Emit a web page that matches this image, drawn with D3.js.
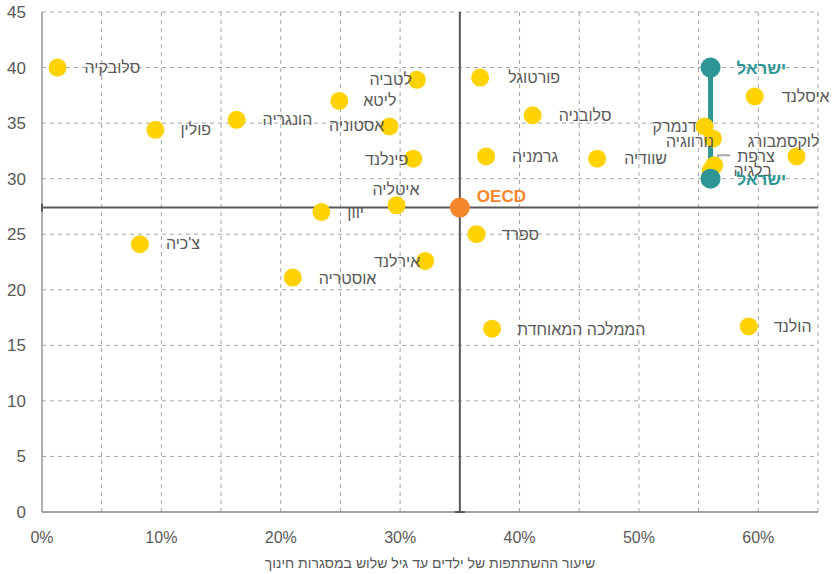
<!DOCTYPE html>
<html>
<head>
<meta charset="utf-8">
<script src="https://cdn.jsdelivr.net/npm/d3@7"></script>
<style>
  body { margin: 0; background: #fff; }
  text { font-family: "Liberation Sans", Arial, sans-serif; }
</style>
</head>
<body>
<div class="chart"></div>
<script>

// countries (Hebrew names), participation rate under 3 (%) and y value
var countries = ["סלובקיה", "פולין", "הונגריה", "ליטא", "לטביה", "אסטוניה", "פינלנד",
                 "פורטוגל", "סלובניה", "גרמניה", "שוודיה", "דנמרק", "נורווגיה", "בלגיה",
                 "צרפת", "איסלנד", "לוקסמבורג", "הולנד", "הממלכה המאוחדת", "ספרד",
                 "אירלנד", "אוסטריה", "איטליה", "יוון", "צ'כיה"];
var xValues = [1.3, 9.5, 16.3, 24.9, 31.4, 29.1, 31.1,
               36.7, 41.1, 37.2, 46.5, 55.5, 56.2, 56.0,
               56.3, 59.7, 63.2, 59.2, 37.7, 36.4,
               32.1, 21.0, 29.7, 23.4, 8.2];
var yValues = [40.0, 34.4, 35.3, 37.0, 38.9, 34.7, 31.8,
               39.1, 35.7, 32.0, 31.8, 34.7, 33.6, 30.7,
               31.2, 37.4, 32.0, 16.7, 16.5, 25.0,
               22.6, 21.1, 27.6, 27.0, 24.1];

var oecd = { name: "OECD", x: 35.0, y: 27.4 };
var israelName = "ישראל";
var israelX = 56.0;
var israelY = [40, 30];

var xTicks = [0, 10, 20, 30, 40, 50, 60];
var yTicks = [0, 5, 10, 15, 20, 25, 30, 35, 40, 45];
var xTitle = "שיעור ההשתתפות של ילדים עד גיל שלוש במסגרות חינוך";

// label placement (layout only): dx, dy from point, anchor
var labelPos = {
  "סלובקיה": [27, 5, "start"], "פולין": [25, 5, "start"], "הונגריה": [26, 5, "start"],
  "ליטא": [24, 5, "start"], "לטביה": [-5, 5, "end"], "אסטוניה": [-5, 5, "end"],
  "פינלנד": [-5, 6, "end"], "פורטוגל": [28, 5, "start"], "סלובניה": [26, 6, "start"],
  "גרמניה": [26, 6, "start"], "שוודיה": [27, 5, "start"], "דנמרק": [-8, 6, "end"],
  "נורווגיה": [1, 8, "end"], "צרפת": [23, -3, "start"], "בלגיה": [23, 5, "start"],
  "איסלנד": [27, 6, "start"], "לוקסמבורג": [23, -9, "end"], "הולנד": [25, 6, "start"],
  "הממלכה המאוחדת": [25, 6, "start"], "ספרד": [25, 6, "start"], "אירלנד": [-5, 6, "end"],
  "אוסטריה": [26, 6, "start"], "איטליה": [23, -10, "end"], "יוון": [26, 6, "start"],
  "צ'כיה": [26, 5, "start"]
};

var w = 832, h = 574;
var margin = { left: 42, right: 14, top: 12, bottom: 62 };

var svg = d3.select(".chart").append("svg")
            .attr("width", w)
            .attr("height", h);

var x = d3.scaleLinear().domain([0, 65]).range([margin.left, w - margin.right]);
var y = d3.scaleLinear().domain([0, 45]).range([h - margin.bottom, margin.top]);

// dashed grid
var gridX = d3.range(5, 66, 5);
var gridY = d3.range(5, 46, 5);
svg.append("g").selectAll("line").data(gridX).enter().append("line")
   .attr("x1", function(d) { return x(d); })
   .attr("x2", function(d) { return x(d); })
   .attr("y1", y(45)).attr("y2", y(0))
   .attr("stroke", "#a6a6a6").attr("stroke-dasharray", "4,4");
svg.append("g").selectAll("line").data(gridY).enter().append("line")
   .attr("y1", function(d) { return y(d); })
   .attr("y2", function(d) { return y(d); })
   .attr("x1", x(0)).attr("x2", x(65))
   .attr("stroke", "#a6a6a6").attr("stroke-dasharray", "4,4");

// axis lines
svg.append("line").attr("x1", x(0)).attr("x2", x(0)).attr("y1", y(45)).attr("y2", y(0))
   .attr("stroke", "#868686").attr("stroke-width", 1.3);
svg.append("line").attr("x1", x(0)).attr("x2", x(65)).attr("y1", y(0)).attr("y2", y(0))
   .attr("stroke", "#868686").attr("stroke-width", 1.3);

// tick labels
svg.append("g").selectAll("text").data(yTicks).enter().append("text")
   .attr("x", 26)
   .attr("y", function(d) { return y(d) + 6; })
   .attr("text-anchor", "end")
   .attr("font-size", "17px")
   .attr("fill", "#595959")
   .text(function(d) { return d; });
svg.append("g").selectAll("text").data(xTicks).enter().append("text")
   .attr("x", function(d) { return x(d); })
   .attr("y", 543)
   .attr("text-anchor", "middle")
   .attr("font-size", "16px")
   .attr("fill", "#595959")
   .text(function(d) { return d + "%"; });
svg.append("text")
   .attr("x", x(32.5)).attr("y", 568)
   .attr("text-anchor", "middle")
   .attr("font-size", "14px")
   .attr("fill", "#595959")
   .text(xTitle);

// OECD reference lines
svg.append("line").attr("x1", x(oecd.x)).attr("x2", x(oecd.x)).attr("y1", y(45)).attr("y2", y(0))
   .attr("stroke", "#595959").attr("stroke-width", 2);
svg.append("line").attr("x1", x(oecd.x) - 5).attr("x2", x(oecd.x) + 5).attr("y1", y(0)).attr("y2", y(0))
   .attr("stroke", "#595959").attr("stroke-width", 2);
svg.append("line").attr("x1", x(0)).attr("x2", x(65)).attr("y1", y(oecd.y)).attr("y2", y(oecd.y))
   .attr("stroke", "#595959").attr("stroke-width", 2);
svg.append("line").attr("x1", x(0)).attr("x2", x(0)).attr("y1", y(oecd.y) - 4).attr("y2", y(oecd.y) + 4)
   .attr("stroke", "#595959").attr("stroke-width", 2);

// Israel range line
svg.append("line")
   .attr("x1", x(israelX)).attr("x2", x(israelX))
   .attr("y1", y(israelY[0])).attr("y2", y(israelY[1]))
   .attr("stroke", "#2e9595").attr("stroke-width", 5);

// leader for France / Belgium
var fr = countries.indexOf("צרפת");
svg.append("polyline")
   .attr("points", [[x(xValues[fr]) + 1, y(yValues[fr])],
                    [x(xValues[fr]) + 4, y(yValues[fr]) - 10],
                    [x(xValues[fr]) + 16, y(yValues[fr]) - 10]].join(" "))
   .attr("fill", "none").attr("stroke", "#a6a6a6").attr("stroke-width", 2);

// country points
svg.append("g").selectAll("circle").data(countries).enter().append("circle")
   .attr("cx", function(d, i) { return x(xValues[i]); })
   .attr("cy", function(d, i) { return y(yValues[i]); })
   .attr("r", 9)
   .attr("fill", "#ffd200");

// Israel points
svg.append("g").selectAll("circle").data(israelY).enter().append("circle")
   .attr("cx", x(israelX))
   .attr("cy", function(d) { return y(d); })
   .attr("r", 10)
   .attr("fill", "#2e9595");

// OECD point
svg.append("circle").attr("cx", x(oecd.x)).attr("cy", y(oecd.y)).attr("r", 10)
   .attr("fill", "#f5862b");

// country labels
svg.append("g").selectAll("text").data(countries).enter().append("text")
   .attr("x", function(d, i) { return x(xValues[i]) + labelPos[d][0]; })
   .attr("y", function(d, i) { return y(yValues[i]) + labelPos[d][1]; })
   .attr("text-anchor", function(d) { return labelPos[d][2]; })
   .attr("font-size", "16px")
   .attr("fill", "#595959")
   .text(function(d) { return d; });

svg.append("g").selectAll("text").data(israelY).enter().append("text")
   .attr("x", x(israelX) + 26)
   .attr("y", function(d) { return y(d) + 6; })
   .attr("font-size", "17px")
   .attr("font-weight", "bold")
   .attr("fill", "#2e9595")
   .text(israelName);

svg.append("text")
   .attr("x", x(oecd.x) + 17)
   .attr("y", y(oecd.y) - 6)
   .attr("font-size", "17px")
   .attr("font-weight", "bold")
   .attr("fill", "#f5862b")
   .text(oecd.name);

</script>
</body>
</html>
